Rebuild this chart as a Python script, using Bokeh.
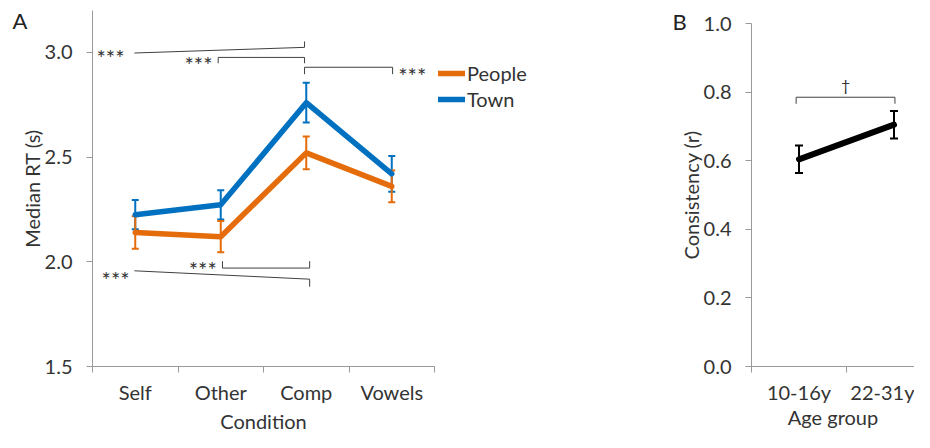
from bokeh.plotting import figure
from bokeh.models import (Range1d, FixedTicker, Legend, LegendItem, Whisker,
                          ColumnDataSource, Label, TeeHead, PrintfTickFormatter)
from bokeh.layouts import row
from bokeh.core.properties import value
from bokeh.embed import file_html
from bokeh.resources import INLINE

FONT = "Lato"
TEXT = "#333333"
AXIS = "#999999"
ORANGE = "#E46C0A"
BLUE = "#0070C0"

# ---------------- Panel A data ----------------
conditions = ["Self", "Other", "Comp", "Vowels"]
people_rt = [2.14, 2.12, 2.52, 2.36]
people_se = [0.078, 0.075, 0.078, 0.076]
town_rt = [2.225, 2.272, 2.76, 2.42]
town_se = [0.07, 0.07, 0.095, 0.085]
series_names = ["People", "Town"]
rt_ticks = [1.5, 2.0, 2.5, 3.0]
rt_range = [1.5, 3.2]

# significance annotations (data coordinates)
sig_a_xs = [[0.49, 2.48, 2.48],
            [1.47, 1.47, 2.48, 2.48],
            [2.48, 2.48, 3.51, 3.51],
            [1.52, 1.52, 2.54, 2.54],
            [0.49, 2.54, 2.54]]
sig_a_ys = [[2.997, 3.024, 3.052],
            [2.948, 2.976, 2.976, 2.948],
            [2.896, 2.929, 2.929, 2.896],
            [2.003, 1.970, 1.970, 2.003],
            [1.957, 1.917, 1.881]]
sig_a_label_x = [0.21, 1.24, 3.74, 1.29, 0.27]
sig_a_label_y = [3.0, 2.967, 2.915, 1.989, 1.94]
sig_a_labels = ["***", "***", "***", "***", "***"]

# ---------------- Panel B data ----------------
age_groups = ["10-16y", "22-31y"]
consistency = [0.604, 0.705]
consistency_se = [0.04, 0.04]
cons_ticks = [0.0, 0.2, 0.4, 0.6, 0.8, 1.0]
cons_range = [0.0, 1.0]
sig_b_xs = [[0.47, 0.47, 1.51, 1.51]]
sig_b_ys = [[0.766, 0.785, 0.785, 0.766]]
sig_b_label_x = [0.99]
sig_b_label_y = [0.822]
sig_b_labels = ["\u2020"]

# ---------------- layout (pixels) ----------------
H = 432


def span(v0, p0, v1, p1, size, downward=False):
    """Range so that value v0 sits at pixel p0 and v1 at pixel p1 (0..size)."""
    k = (v1 - v0) / (p1 - p0)
    a = v0 + (0 - p0) * k
    b = v0 + (size - p0) * k
    return Range1d(b, a) if downward else Range1d(a, b)


def style_axes(p):
    p.grid.visible = False
    p.outline_line_color = None
    for ax in p.axis:
        ax.axis_line_color = AXIS
        ax.axis_line_width = 1
        ax.major_tick_line_color = AXIS
        ax.minor_tick_line_color = AXIS
        ax.major_label_text_font = FONT
        ax.major_label_text_font_size = "20px"
        ax.major_label_text_color = TEXT
        ax.axis_label_text_font = FONT
        ax.axis_label_text_font_size = "20px"
        ax.axis_label_text_font_style = "normal"
        ax.axis_label_text_color = TEXT


def style_x(ax, title_standoff):
    ax.major_tick_out = 0
    ax.major_tick_in = 0
    ax.minor_tick_out = 6
    ax.minor_tick_in = 0
    ax.major_label_standoff = 7
    ax.axis_label_standoff = title_standoff


def style_y(ax):
    ax.major_tick_out = 6
    ax.major_tick_in = 0
    ax.major_label_standoff = 14
    ax.axis_label_standoff = -2


# ================= Panel A =================
FA_W = 640
pA = figure(width=FA_W, height=H,
            x_range=span(0, 92, len(conditions), 434, FA_W),
            y_range=span(rt_range[0], 366, rt_range[1], 10, H, downward=True),
            min_border=0, min_border_left=0, min_border_right=0,
            min_border_top=0, min_border_bottom=0,
            output_backend="svg", toolbar_location=None)
style_axes(pA)

cond_x = [i + 0.5 for i in range(len(conditions))]
pA.xaxis.ticker = FixedTicker(ticks=cond_x,
                              minor_ticks=list(range(len(conditions) + 1)))
pA.xaxis.major_label_overrides = {x: c for x, c in zip(cond_x, conditions)}
pA.xaxis.bounds = (0, len(conditions))
pA.xaxis.fixed_location = rt_range[0]
style_x(pA.xaxis[0], 2)
pA.xaxis.axis_label = "Condition"

pA.yaxis.ticker = FixedTicker(ticks=rt_ticks, minor_ticks=[])
pA.yaxis.formatter = PrintfTickFormatter(format="%.1f")
pA.yaxis.bounds = tuple(rt_range)
pA.yaxis.fixed_location = 0
style_y(pA.yaxis[0])
pA.yaxis.axis_label = "Median RT (s)"

r_town = pA.line(cond_x, town_rt, line_color=BLUE, line_width=5.5,
                 line_join="round", line_cap="round")
r_people = pA.line(cond_x, people_rt, line_color=ORANGE, line_width=5.5,
                   line_join="round", line_cap="round")

for vals, errs, col in [(town_rt, town_se, BLUE), (people_rt, people_se, ORANGE)]:
    src = ColumnDataSource(dict(x=cond_x,
                                upper=[v + e for v, e in zip(vals, errs)],
                                lower=[v - e for v, e in zip(vals, errs)]))
    pA.add_layout(Whisker(base="x", upper="upper", lower="lower", source=src,
                          line_color=col, line_width=2,
                          upper_head=TeeHead(size=7, line_color=col, line_width=2),
                          lower_head=TeeHead(size=7, line_color=col, line_width=2)))

pA.multi_line(sig_a_xs, sig_a_ys, line_color="#404040", line_width=1)
pA.text(sig_a_label_x, sig_a_label_y, text=sig_a_labels,
        text_font=value(FONT), text_font_size="22px", text_color=TEXT,
        text_align="center", text_baseline="middle", y_offset=5)

legend = Legend(items=[LegendItem(label=series_names[0], renderers=[r_people]),
                       LegendItem(label=series_names[1], renderers=[r_town])],
                location=(438, H - 111), glyph_width=27, glyph_height=24,
                label_height=24, label_standoff=2, spacing=2, padding=0, margin=0,
                border_line_color=None, background_fill_alpha=0,
                label_text_font=FONT, label_text_font_size="20px",
                label_text_color=TEXT)
pA.add_layout(legend)

pA.add_layout(Label(x=12, y=H - 20, x_units="screen", y_units="screen", text="A",
                    text_font=FONT, text_font_size="22px", text_color="#222222",
                    text_align="left", text_baseline="middle"))

# ================= Panel B =================
FB_W = 274
pB = figure(width=FB_W, height=H,
            x_range=span(0, 111, 1, 206, FB_W),
            y_range=span(cons_range[0], 366, cons_range[1], 23, H, downward=True),
            min_border=0, min_border_left=0, min_border_right=0,
            min_border_top=0, min_border_bottom=0,
            output_backend="svg", toolbar_location=None)
style_axes(pB)

age_x = [i + 0.5 for i in range(len(age_groups))]
pB.xaxis.ticker = FixedTicker(ticks=age_x,
                              minor_ticks=list(range(len(age_groups) + 1)))
pB.xaxis.major_label_overrides = {x: g for x, g in zip(age_x, age_groups)}
pB.xaxis.bounds = (0, len(age_groups))
pB.xaxis.fixed_location = cons_range[0]
style_x(pB.xaxis[0], -2)
pB.xaxis.axis_label = "Age group"

pB.yaxis.ticker = FixedTicker(ticks=cons_ticks, minor_ticks=[])
pB.yaxis.formatter = PrintfTickFormatter(format="%.1f")
pB.yaxis.bounds = tuple(cons_range)
pB.yaxis.fixed_location = 0
style_y(pB.yaxis[0])
pB.yaxis.axis_label = "Consistency (r)"

pB.line(age_x, consistency, line_color="black", line_width=6,
        line_join="round", line_cap="round")
srcB = ColumnDataSource(dict(x=age_x,
                             upper=[v + e for v, e in zip(consistency, consistency_se)],
                             lower=[v - e for v, e in zip(consistency, consistency_se)]))
pB.add_layout(Whisker(base="x", upper="upper", lower="lower", source=srcB,
                      line_color="black", line_width=2,
                      upper_head=TeeHead(size=8, line_color="black", line_width=2),
                      lower_head=TeeHead(size=8, line_color="black", line_width=2)))
pB.multi_line(sig_b_xs, sig_b_ys, line_color="#404040", line_width=1)
pB.text(sig_b_label_x, sig_b_label_y, text=sig_b_labels,
        text_font=value(FONT), text_font_size="16px", text_color=TEXT,
        text_align="center", text_baseline="middle")

pB.add_layout(Label(x=32, y=H - 21, x_units="screen", y_units="screen", text="B",
                    text_font=FONT, text_font_size="22px", text_color="#222222",
                    text_align="left", text_baseline="middle"))

layout = row(pA, pB)
open("out.html", "w").write(file_html(layout, INLINE))
